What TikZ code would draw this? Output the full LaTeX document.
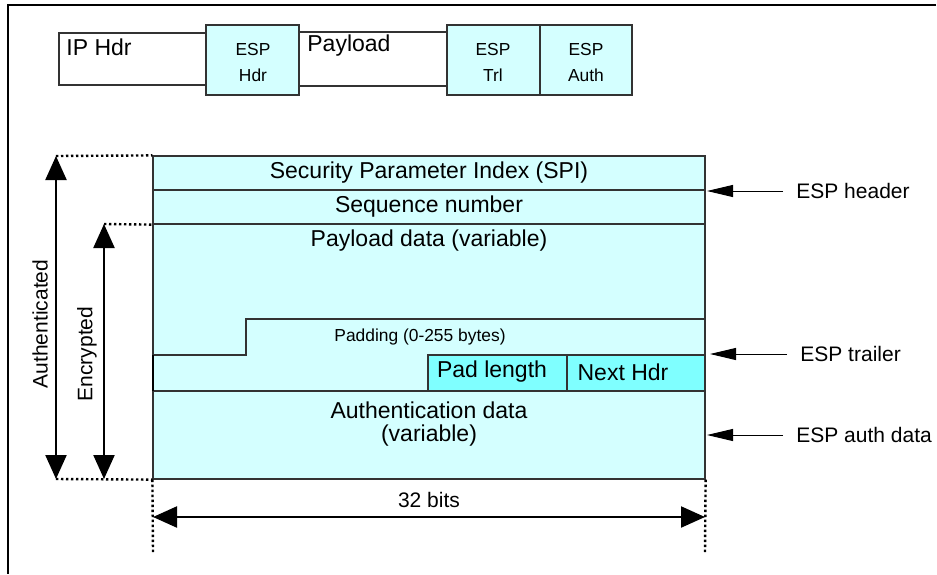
\documentclass[tikz,border=0pt]{standalone}
\usepackage{fontspec}
\setmainfont{Liberation Sans}
\usetikzlibrary{arrows.meta,fit}
\definecolor{lcyan}{HTML}{D4FFFF}
\definecolor{bcyan}{HTML}{7FFFFF}
\definecolor{edge}{HTML}{333333}
\tikzset{
 fbox/.style={draw=edge, line width=0.6pt, inner sep=0pt},
 big/.style={font=\fontsize{11.5}{13}\selectfont, inner sep=0pt},
 mid/.style={font=\fontsize{10.5}{12}\selectfont, inner sep=0pt},
 small/.style={font=\fontsize{8.7}{10}\selectfont, inner sep=0pt},
 dim/.style={line width=1.1pt, {Triangle[length=12pt,width=10.5pt]}-{Triangle[length=12pt,width=10.5pt]}},
 dots/.style={line width=1.2pt, dash pattern=on 1.2pt off 1.3pt},
 pointer/.style={line width=0.5pt, -{Triangle[length=13pt,width=6pt]}},
 rule/.style={draw=edge, line width=0.6pt},
}
\begin{document}
\begin{tikzpicture}[x=0.5pt,y=-0.5pt]
\useasboundingbox (0,0) rectangle (937,574);
\draw[line width=0.8pt] (936,5) -- (8,5) -- (8,574);

% top packet layout
\node[fbox, fill=white, fit={(59,33)(206,85)}] (iphdr) {};
\node[fbox, fill=lcyan, fit={(206,25)(299,95)}] (esphdr) {};
\node[fbox, fill=white, fit={(299,32)(447,86)}] (payload) {};
\node[fbox, fill=lcyan, fit={(447,25)(540,95)}] (esptrl) {};
\node[fbox, fill=lcyan, fit={(540,25)(632,95)}] (espauth) {};
\node[big, anchor=west] (tiphdr) at (66,47) {IP Hdr};
\node[big, anchor=west] (tpayload) at (307,46) {Payload};
\node[small] (th1) at (253,50) {ESP};
\node[small] (th2) at (253,75) {Hdr};
\node[small] (tt1) at (493,50) {ESP};
\node[small] (tt2) at (493,75) {Trl};
\node[small] (ta1) at (586,50) {ESP};
\node[small] (ta2) at (586,75) {Auth};

% main block
\node[fbox, fill=lcyan, fit={(153,156)(705,479)}] (block) {};
\node[fbox, fit={(153,156)(705,190)}] (spi) {};
\node[fbox, fit={(153,190)(705,224)}] (seq) {};
\node[fbox, fit={(153,391)(705,479)}] (authd) {};
\node[fbox, fill=bcyan, fit={(428,355)(567,391)}] (padlen) {};
\node[fbox, fill=bcyan, fit={(567,355)(705,391)}] (nexthdr) {};
\draw[rule] (153,355) -- (246,355) -- (246,319) -- (705,319);
\draw[line width=0.8pt] (153,355) -- (153,391);

\node[big] (tspi) at (429,173) {Security Parameter Index (SPI)};
\node[big] (tseq) at (429,207) {Sequence number};
\node[big] (tpay) at (429,241) {Payload data (variable)};
\node[small] (tpad) at (420,337) {Padding (0-255 bytes)};
\node[big] (tpadlen) at (492,372) {Pad length};
\node[big] (tnext) at (623,372) {Next Hdr};
\node[big] (tauth1) at (429,410) {Authentication data};
\node[big] (tauth2) at (429,436) {(variable)};

% left dimension arrows
\coordinate (aT) at (56,156);
\coordinate (aB) at (56,479);
\coordinate (eT) at (104,224);
\coordinate (eB) at (104,479);
\draw[dim] (aT) -- (aB);
\draw[dim] (eT) -- (eB);
\draw[dots] (aT) -- (block.north west);
\draw[dots] (aB) -- (block.south west);
\draw[dots] (eT) -- (seq.south west);
\node[mid, rotate=90] (tauthd) at (40,324) {Authenticated};
\node[mid, rotate=90] (tenc) at (87,354) {Encrypted};

% bottom 32 bits
\coordinate (dL) at (153,552);
\coordinate (dR) at (705,552);
\draw[dots] (block.south west) -- (dL);
\draw[dots] (block.south east) -- (dR);
\coordinate (bL) at (153,517);
\coordinate (bR) at (705,517);
\draw[dim] (bL) -- (bR);
\node[mid] (t32) at (429,500) {32 bits};

% right pointers
\coordinate (pH) at (783,191);
\coordinate (pT) at (787,354);
\coordinate (pA) at (783,435);
\draw[pointer] (pH) -- (707,191);
\draw[pointer] (pT) -- (710,354);
\draw[pointer] (pA) -- (707,435);
\node[mid, anchor=west] (lH) at (796,191) {ESP header};
\node[mid, anchor=west] (lT) at (800,354) {ESP trailer};
\node[mid, anchor=west] (lA) at (796,435) {ESP auth data};
\end{tikzpicture}
\end{document}
